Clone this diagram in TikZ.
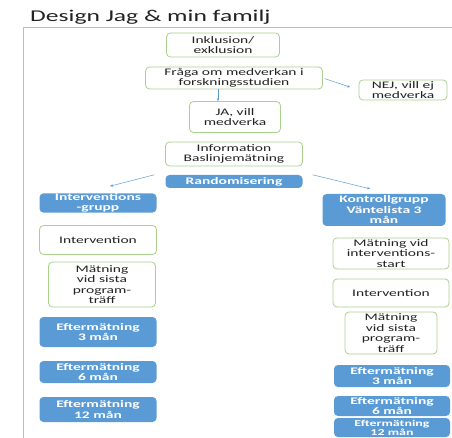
\documentclass[tikz,border=0pt]{standalone}
\usepackage{fontspec}
\setmainfont{Carlito}[FakeStretch=1.55]
\usetikzlibrary{arrows.meta}
\definecolor{gb}{HTML}{A9D18E}
\definecolor{bb}{HTML}{5B9BD5}
\definecolor{tx}{HTML}{222222}
\begin{document}
\begin{tikzpicture}[x=1pt,y=-1pt,
  wbox/.style={draw=gb, line width=0.8pt, rounded corners=4pt, fill=white, text=tx,
    align=center, font=\fontsize{10}{10.5}\selectfont, inner sep=0pt},
  bbox/.style={fill=bb, rounded corners=4pt, text=white, align=center,
    font=\fontsize{10}{10.5}\selectfont\bfseries, inner sep=0pt},
  conn/.style={-{Stealth[length=3pt,width=2.5pt]}, draw=bb, line width=0.5pt}]
\useasboundingbox (0,0) rectangle (452,438);
\node[anchor=base west, font=\fontsize{16.5}{18}\selectfont, text=tx, inner sep=0pt] (title) at (30,22) {Design Jag \& min familj};
\draw[gb, line width=1pt] (23,440) -- (23,28) -- (453,28);

\node[wbox, minimum width=113pt, minimum height=24pt] (inkl) at (223,45) {Inklusion/\\exklusion};
\node[wbox, minimum width=177pt, minimum height=22pt] (fraga) at (234,78) {Fråga om medverkan i\\forskningsstudien};
\node[wbox, minimum width=88pt, minimum height=20pt] (nej) at (403,90) {NEJ, vill ej\\medverka};
\node[wbox, minimum width=91pt, minimum height=31pt] (ja) at (235,117) {JA, vill\\medverka};
\node[wbox, minimum width=137pt, minimum height=24pt] (info) at (234,154) {Information\\Baslinjemätning};
\node[bbox, minimum width=137pt, minimum height=13pt] (rand) at (234,181.5) {Randomisering};

\node[bbox, minimum width=117pt, minimum height=18pt] (ivg) at (98,203) {Interventions\\-grupp};
\node[wbox, minimum width=117pt, minimum height=29pt] (int1) at (98,240) {Intervention};
\node[wbox, minimum width=107pt, minimum height=45pt] (mat1) at (102,284.5) {Mätning\\vid sista\\program-\\träff};
\node[bbox, minimum width=117pt, minimum height=30pt] (e3a) at (98,332) {Eftermätning\\3 mån};
\node[bbox, minimum width=117pt, minimum height=22pt] (e6a) at (98,372) {Eftermätning\\6 mån};
\node[bbox, minimum width=117pt, minimum height=25pt] (e12a) at (98,409.5) {Eftermätning\\12 mån};

\node[bbox, minimum width=123pt, minimum height=32pt] (kg) at (384,210) {Kontrollgrupp\\Väntelista 3\\mån};
\node[wbox, minimum width=116pt, minimum height=31pt] (mstart) at (391,253.5) {Mätning vid\\interventions-\\start};
\node[wbox, minimum width=116pt, minimum height=28pt] (int2) at (391,293) {Intervention};
\node[wbox, minimum width=92pt, minimum height=42pt] (mat2) at (391,333) {Mätning\\vid sista\\program-\\träff};
\node[bbox, minimum width=116pt, minimum height=22pt] (e3b) at (392,376) {Eftermätning\\3 mån};
\node[bbox, minimum width=116pt, minimum height=20pt] (e6b) at (392,406) {Eftermätning\\6 mån};
\node[bbox, minimum width=116pt, minimum height=19pt, font=\fontsize{9}{9}\selectfont\bfseries] (e12b) at (392,427.5) {Eftermätning\\12 mån};

\draw[conn, shorten <=2pt, shorten >=9pt] (fraga.east) -- (nej.west);
\draw[conn] ([xshift=-16pt]fraga.south) -- ([xshift=-17pt]ja.north);
\draw[conn] ([xshift=-11pt]rand.north west) -- ([xshift=12pt,yshift=7pt]ivg.north);
\draw[conn] ([xshift=10pt]rand.north east) -- ([xshift=-14pt,yshift=5pt]kg.north);
\end{tikzpicture}
\end{document}
